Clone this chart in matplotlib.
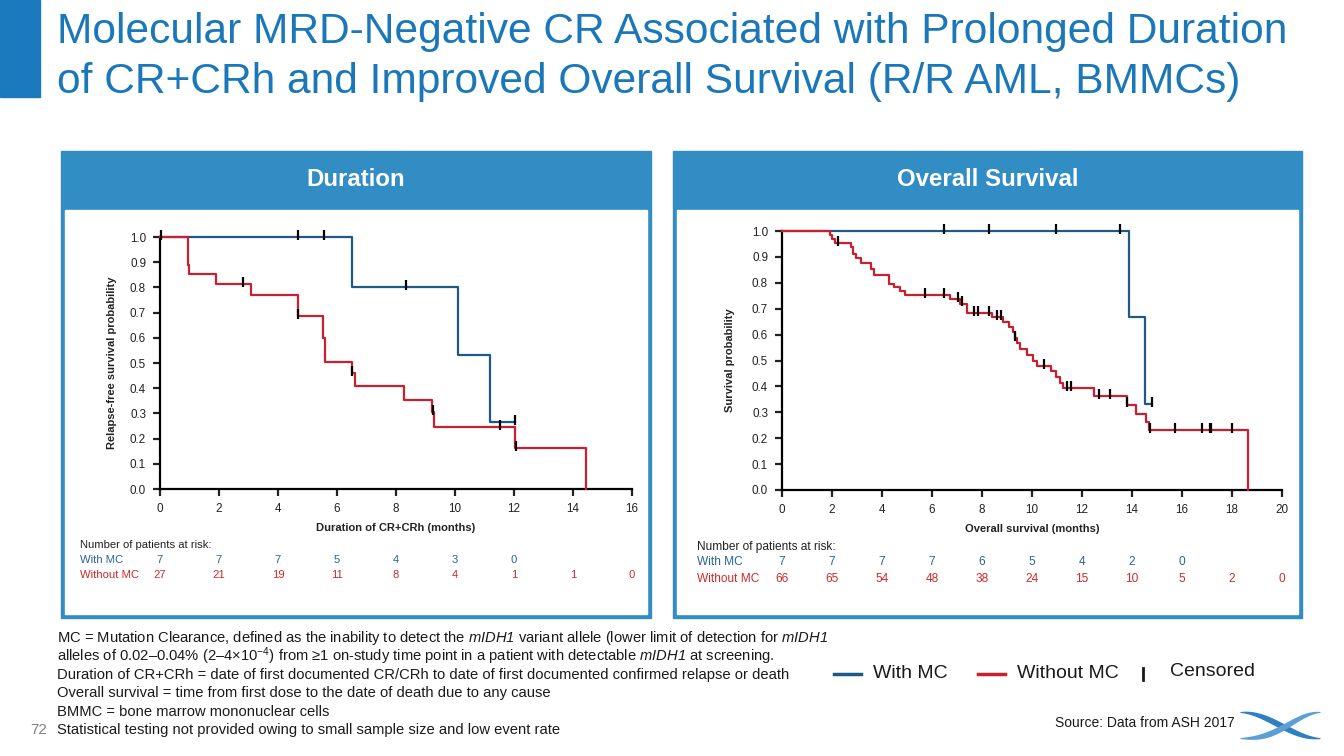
import matplotlib
matplotlib.use('Agg')
import matplotlib.pyplot as plt
from matplotlib.patches import Rectangle
from matplotlib.transforms import blended_transform_factory
import numpy as np

plt.rcParams['font.family'] = ['Liberation Sans', 'DejaVu Sans']
plt.rcParams['mathtext.fontset'] = 'custom'
plt.rcParams['mathtext.rm'] = 'Liberation Sans'
plt.rcParams['mathtext.it'] = 'Liberation Sans:italic'
plt.rcParams['mathtext.sf'] = 'Liberation Sans:italic'

W, H = 1344, 756
BLUE_LINE = '#1f5a84'
RED_LINE = '#c9202f'
BLUE_TXT = '#2a6494'
RED_TXT = '#d02a2a'
PANEL = '#318dc4'
TITLE = '#1a77b9'

# ---- Duration of CR+CRh (months)
dur_with_t = [0, 6.5, 10.1, 11.2, 12.05]
dur_with_s = [1.0, 0.8, 0.533, 0.267, 0.267]
dur_with_cens = [0.05, 4.67, 5.57, 8.35, 12.05]

dur_without_t = [0, 0.94, 0.98, 1.89, 3.07, 4.67, 5.54, 5.58, 6.5, 6.6,
                 8.28, 9.22, 9.3, 12.05, 14.43]
dur_without_s = [1.0, 0.889, 0.852, 0.815, 0.77, 0.685, 0.6, 0.505, 0.46, 0.41,
                 0.355, 0.305, 0.245, 0.163, 0.0]
dur_without_cens = [2.8, 4.69, 6.52, 9.25, 11.53, 12.06]

dur_risk_t = [0, 2, 4, 6, 8, 10, 12, 14, 16]
dur_risk_with = [7, 7, 7, 5, 4, 3, 0]
dur_risk_without = [27, 21, 19, 11, 8, 4, 1, 1, 0]

# ---- Overall survival (months)
os_with_t = [0, 13.87, 14.5, 14.8]
os_with_s = [1.0, 0.667, 0.333, 0.333]
os_with_cens = [6.47, 8.26, 10.95, 13.5, 14.8]

os_without_t = [0, 1.93, 2.0, 2.1, 2.76, 2.85, 2.95, 3.16, 3.56, 3.67, 4.29,
                4.47, 4.73, 4.93, 6.73, 7.13, 7.4, 8.4, 8.84, 9.07, 9.24, 9.33,
                9.38, 9.53, 9.8, 10.04, 10.2, 10.76, 10.97, 11.13, 11.24, 12.49,
                13.8, 14.17, 14.56, 14.67, 18.63]
os_without_s = [1.0, 0.985, 0.97, 0.955, 0.94, 0.91, 0.895, 0.877, 0.855, 0.83,
                0.797, 0.784, 0.767, 0.754, 0.736, 0.72, 0.685, 0.668, 0.65,
                0.63, 0.61, 0.585, 0.566, 0.546, 0.523, 0.5, 0.478, 0.459,
                0.437, 0.414, 0.392, 0.362, 0.33, 0.295, 0.263, 0.232, 0.0]
os_without_cens = [2.24, 5.73, 6.47, 7.04, 7.2, 7.66, 7.84, 8.29, 8.6, 8.76,
                   9.33, 10.47, 11.4, 11.57, 12.69, 13.11, 13.8, 14.73, 15.73,
                   16.8, 17.1, 17.15, 18.0]

os_risk_t = [0, 2, 4, 6, 8, 10, 12, 14, 16, 18, 20]
os_risk_with = [7, 7, 7, 7, 6, 5, 4, 2, 0]
os_risk_without = [66, 65, 54, 48, 38, 24, 15, 10, 5, 2, 0]

footnotes = [
    r'MC = Mutation Clearance, defined as the inability to detect the $\mathsf{mIDH1}$ variant allele (lower limit of detection for $\mathsf{mIDH1}$',
    r'alleles of 0.02–0.04% (2–4×10$^{-4}$) from ≥1 on-study time point in a patient with detectable $\mathsf{mIDH1}$ at screening.',
    'Duration of CR+CRh = date of first documented CR/CRh to date of first documented confirmed relapse or death',
    'Overall survival = time from first dose to the date of death due to any cause',
    'BMMC = bone marrow mononuclear cells',
    'Statistical testing not provided owing to small sample size and low event rate',
]


def fx(x):
    return x / W


def fy(y):
    return 1 - y / H


def step_value(t, s, c):
    i = np.searchsorted(t, c, side='right') - 1
    return np.array(s)[i]


def km_axes(fig, box, xmax, xlabel, ylabel, ylabel_x, curves, risk_t,
            risk_with, risk_without, risk_x, risk_y, risk_fs):
    x0, x1, y0, y1 = box
    ax = fig.add_axes([fx(x0), fy(y1), fx(x1) - fx(x0), fy(y0) - fy(y1)])
    ax.set_zorder(5)
    for t, s, cens, col in curves:
        ax.step(t, s, where='post', color=col, lw=1.6, clip_on=False, zorder=3)
        ax.plot(cens, step_value(t, s, cens) + 0.008, ls='none', marker='|',
                ms=7, mew=1.6, color='black', clip_on=False, zorder=4)
    ax.set_xlim(0, xmax)
    ax.set_ylim(0, 1)
    ax.set_xticks(np.arange(0, xmax + 1, 2))
    ax.set_yticks(np.arange(0, 1.01, 0.1))
    ax.set_yticklabels([f'{v:.1f}' for v in np.arange(0, 1.01, 0.1)])
    for sp in ['top', 'right']:
        ax.spines[sp].set_visible(False)
    for sp in ['left', 'bottom']:
        ax.spines[sp].set_linewidth(1.6)
    ax.tick_params(direction='out', length=5, width=1.6, labelsize=8.4,
                   colors='#222222', pad=5)
    ax.patch.set_alpha(0)
    ax.set_xlabel(xlabel, fontsize=8, fontweight='bold', color='#222222',
                  labelpad=6)
    fig.text(fx(ylabel_x), fy((y0 + y1) / 2), ylabel, rotation=90,
             fontsize=8, fontweight='bold', color='#222222',
             ha='center', va='center', zorder=6)
    tr = blended_transform_factory(ax.transData, fig.transFigure)
    fig.text(fx(risk_x), fy(risk_y[0]), 'Number of patients at risk:',
             fontsize=risk_fs, color='#222222', va='center', zorder=6)
    fig.text(fx(risk_x), fy(risk_y[1]), 'With MC', fontsize=risk_fs,
             color=BLUE_TXT, va='center', zorder=6)
    fig.text(fx(risk_x), fy(risk_y[2]), 'Without MC', fontsize=risk_fs,
             color=RED_TXT, va='center', zorder=6)
    for t, n in zip(risk_t, risk_with):
        ax.text(t, fy(risk_y[1]), str(n), transform=tr, fontsize=risk_fs,
                color=BLUE_TXT, ha='center', va='center', clip_on=False)
    for t, n in zip(risk_t, risk_without):
        ax.text(t, fy(risk_y[2]), str(n), transform=tr, fontsize=risk_fs,
                color=RED_TXT, ha='center', va='center', clip_on=False)
    return ax


fig = plt.figure(figsize=(W / 100, H / 100), dpi=100)
fig.patch.set_facecolor('white')

# title bar and title
fig.patches.append(Rectangle((0, fy(97)), fx(40), 97 / H, transform=fig.transFigure,
                             color='#1a7abd', zorder=0))
fig.text(fx(57), fy(43), 'Molecular MRD-Negative CR Associated with Prolonged Duration',
         fontsize=30.6, color=TITLE, va='baseline')
fig.text(fx(57), fy(93), 'of CR+CRh and Improved Overall Survival (R/R AML, BMMCs)',
         fontsize=30.6, color=TITLE, va='baseline')

# panels
for (px0, px1, head) in [(61, 651, 'Duration'), (673, 1302, 'Overall Survival')]:
    fig.patches.append(Rectangle((fx(px0), fy(618)), fx(px1) - fx(px0), (618 - 151) / H,
                                 transform=fig.transFigure, color=PANEL, zorder=0))
    fig.patches.append(Rectangle((fx(px0 + 4), fy(614)), fx(px1 - 4) - fx(px0 + 4),
                                 (614 - 210) / H, transform=fig.transFigure,
                                 color='white', zorder=0))
    fig.text(fx((px0 + px1) / 2), fy(180), head, fontsize=17.3, fontweight='bold',
             color='white', ha='center', va='center')

km_axes(fig, (160, 632, 237, 489), 16, 'Duration of CR+CRh (months)',
        'Relapse-free survival probability', 112,
        [(dur_with_t, dur_with_s, dur_with_cens, BLUE_LINE),
         (dur_without_t, dur_without_s, dur_without_cens, RED_LINE)],
        dur_risk_t, dur_risk_with, dur_risk_without, 80, (545, 560, 575), 8.1)

km_axes(fig, (782, 1282, 231, 490), 20, 'Overall survival (months)',
        'Survival probability', 730,
        [(os_with_t, os_with_s, os_with_cens, BLUE_LINE),
         (os_without_t, os_without_s, os_without_cens, RED_LINE)],
        os_risk_t, os_risk_with, os_risk_without, 697, (547, 562, 579), 8.6)

# footnotes
for i, line in enumerate(footnotes):
    fig.text(fx(57), fy(638 + i * 18.4), line, fontsize=10.6, color='#1a1a1a',
             va='center')
fig.text(fx(30), fy(730), '72', fontsize=11, color='#808080', va='center')

# legend
fig.add_artist(plt.Line2D([fx(834), fx(861)], [fy(674), fy(674)], color=BLUE_LINE,
                          lw=2.5, transform=fig.transFigure))
fig.text(fx(873), fy(673), 'With MC', fontsize=14, color='#1a1a1a', va='center')
fig.add_artist(plt.Line2D([fx(978), fx(1005)], [fy(674), fy(674)], color=RED_LINE,
                          lw=2.5, transform=fig.transFigure))
fig.text(fx(1017), fy(673), 'Without MC', fontsize=14, color='#1a1a1a', va='center')
fig.add_artist(plt.Line2D([fx(1143), fx(1143)], [fy(668), fy(680)], color='#1a1a1a',
                          lw=2, transform=fig.transFigure))
fig.text(fx(1170), fy(672), 'Censored', fontsize=14, color='#1a1a1a', va='center')

fig.text(fx(1055), fy(723), 'Source: Data from ASH 2017', fontsize=10,
         color='#1a1a1a', va='center')

# small logo swoosh
lax = fig.add_axes([fx(1240), fy(744), fx(80), 38 / H])
lx = np.linspace(0, 1, 200)
thick = 0.12 * np.sin(np.pi * lx) + 0.02
c1 = 0.55 * np.cos(np.pi * lx)
c2 = -0.55 * np.cos(np.pi * (lx ** 1.3))
lax.fill_between(lx, c1 - thick, c1 + thick, color='#2f7fc1', lw=0)
lax.fill_between(lx, c2 - thick, c2 + thick, color='#5aa0d6', lw=0)
lax.set_xlim(0, 1)
lax.set_ylim(-0.8, 0.8)
lax.axis('off')

fig.savefig('out.png', dpi=100)
